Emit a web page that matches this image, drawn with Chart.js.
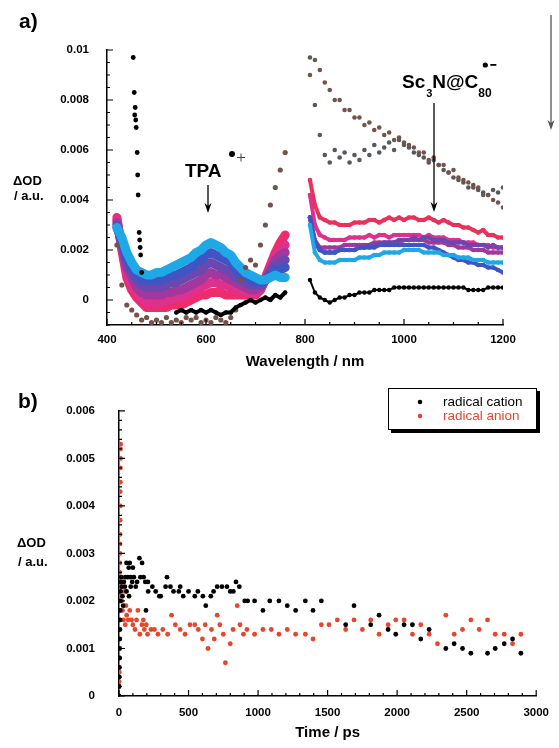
<!DOCTYPE html>
<html>
<head>
<meta charset="utf-8">
<script src="https://cdn.jsdelivr.net/npm/chart.js@4.4.0/dist/chart.umd.min.js"></script>
<style>
  body { margin: 0; background: #fff; }
  #page { position: relative; width: 559px; height: 748px; overflow: hidden; background: #fff; }
  #wrapA { position: absolute; left: 0; top: 0; width: 559px; height: 380px; }
  #wrapB { position: absolute; left: 0; top: 380px; width: 559px; height: 368px; }
</style>
</head>
<body>
<div id="page">
  <div id="wrapA"><canvas id="specChart"></canvas></div>
  <div id="wrapB"><canvas id="kinChart"></canvas></div>
</div>
<script>
// ---- panel a: transient spectra ----
const wlVis = [420,430,440,450,460,470,480,490,500,510,520,530,540,550,560,570,580,590,600,610,620,630,640,650,660,670,680,690,700,710,720,730,740,750,760];
const wlNir = [810,820,830,840,850,860,870,880,890,900,910,920,930,940,950,960,970,980,990,1000,1010,1020,1030,1040,1050,1060,1070,1080,1090,1100,1110,1120,1130,1140,1150,1160,1170,1180,1190,1200];

const cyanVis   = [0.0029,0.0025,0.0019,0.0015,0.0012,0.0011,0.0010,0.0010,0.0011,0.0011,0.0012,0.0013,0.0014,0.0015,0.0016,0.0017,0.0019,0.0020,0.0022,0.0023,0.0022,0.0021,0.0019,0.0018,0.0015,0.0013,0.0011,0.0010,0.0009,0.0008,0.0008,0.0009,0.0010,0.0009,0.0009];
const blueVis   = [0.0029,0.0024,0.0017,0.0013,0.0010,0.0008,0.0008,0.0008,0.0008,0.0008,0.0009,0.0010,0.0010,0.0011,0.0012,0.0013,0.0015,0.0016,0.0018,0.0019,0.0018,0.0017,0.0016,0.0015,0.0012,0.0010,0.0009,0.0008,0.0007,0.0007,0.0008,0.0010,0.0012,0.0012,0.0013];
const violetVis = [0.0030,0.0023,0.0015,0.0011,0.0008,0.0006,0.0005,0.0005,0.0005,0.0005,0.0006,0.0007,0.0007,0.0008,0.0009,0.0010,0.0011,0.0012,0.0014,0.0015,0.0014,0.0013,0.0012,0.0011,0.0009,0.0008,0.0007,0.0006,0.0006,0.0006,0.0008,0.0011,0.0014,0.0015,0.0016];
const purpleVis = [0.0031,0.0022,0.0013,0.0009,0.0005,0.0003,0.0002,0.0002,0.0002,0.0002,0.0003,0.0003,0.0004,0.0004,0.0005,0.0006,0.0007,0.0008,0.0010,0.0011,0.0010,0.0010,0.0009,0.0008,0.0007,0.0006,0.0005,0.0004,0.0004,0.0005,0.0008,0.0012,0.0016,0.0018,0.0019];
const pinkVis   = [0.0032,0.0021,0.0011,0.0006,0.0003,0.0001,-0.0001,-0.0001,-0.0001,-0.0001,0.0000,0.0000,0.0001,0.0001,0.0002,0.0003,0.0004,0.0005,0.0006,0.0007,0.0007,0.0006,0.0006,0.0005,0.0004,0.0004,0.0003,0.0003,0.0003,0.0004,0.0008,0.0013,0.0017,0.0020,0.0022];
const redVis    = [0.0033,0.0020,0.0009,0.0004,0.0001,-0.0001,-0.0003,-0.0003,-0.0003,-0.0003,-0.0003,-0.0002,-0.0002,-0.0002,-0.0001,0.0000,0.0001,0.0002,0.0002,0.0003,0.0003,0.0003,0.0002,0.0002,0.0002,0.0002,0.0002,0.0002,0.0002,0.0004,0.0009,0.0014,0.0019,0.0023,0.0026];
const brownVis  = [0.0022,0.0006,-0.0002,-0.0004,-0.0006,-0.0008,-0.0007,-0.0009,-0.0008,-0.0009,-0.0007,-0.0009,-0.0008,-0.0009,-0.0007,-0.0008,-0.0007,-0.0009,-0.0008,-0.0009,-0.0007,-0.0008,-0.0009,-0.0007,-0.0004,0.0008,0.0013,0.0016,0.0014,0.0022,0.0030,0.0038,0.0045,0.0052,0.0059];
const blackVis  = [null,null,null,null,null,null,null,null,null,null,null,null,-0.0005,-0.0004,-0.0005,-0.0004,-0.0005,-0.0004,-0.0005,-0.0004,-0.0005,-0.0006,-0.0005,-0.0005,-0.0003,-0.0002,-0.0001,0.0000,-0.0001,0.0000,0.0001,0.0000,0.0002,0.0001,0.0003];

// black points of the early spectrum near 460 nm
const spikeWl = [453,455,457,456,458,459,461,462,463,465,466,467,468,470];
const spikeOD = [0.0097,0.0083,0.0077,0.0074,0.0072,0.0069,0.0059,0.0050,0.0042,0.0027,0.0024,0.0021,0.0018,0.0011];

const redNir    = [0.0048,0.0038,0.0033,0.0032,0.0031,0.0031,0.0030,0.0030,0.0030,0.0031,0.0031,0.0031,0.0032,0.0032,0.0031,0.0032,0.0033,0.0032,0.0033,0.0032,0.0033,0.0033,0.0032,0.0032,0.0033,0.0032,0.0031,0.0032,0.0031,0.0030,0.0030,0.0029,0.0029,0.0028,0.0027,0.0028,0.0026,0.0026,0.0025,0.0025];
const pinkNir   = [0.0042,0.0030,0.0026,0.0025,0.0024,0.0024,0.0024,0.0024,0.0025,0.0025,0.0025,0.0025,0.0026,0.0025,0.0026,0.0026,0.0025,0.0026,0.0026,0.0026,0.0026,0.0026,0.0026,0.0025,0.0026,0.0025,0.0025,0.0025,0.0024,0.0024,0.0024,0.0023,0.0023,0.0023,0.0022,0.0022,0.0022,0.0021,0.0021,0.0021];
const violetNir = [0.0033,0.0023,0.0020,0.0019,0.0019,0.0019,0.0020,0.0020,0.0020,0.0020,0.0021,0.0021,0.0022,0.0022,0.0022,0.0023,0.0023,0.0023,0.0024,0.0024,0.0024,0.0025,0.0024,0.0025,0.0025,0.0024,0.0024,0.0024,0.0023,0.0023,0.0023,0.0023,0.0022,0.0022,0.0022,0.0022,0.0021,0.0022,0.0021,0.0021];
const purpleNir = [0.0033,0.0024,0.0021,0.0021,0.0021,0.0021,0.0021,0.0022,0.0022,0.0022,0.0022,0.0022,0.0022,0.0023,0.0023,0.0023,0.0023,0.0023,0.0023,0.0024,0.0024,0.0024,0.0024,0.0024,0.0023,0.0023,0.0023,0.0023,0.0022,0.0022,0.0021,0.0021,0.0021,0.0020,0.0020,0.0020,0.0019,0.0019,0.0019,0.0019];
const blueNir   = [0.0033,0.0023,0.0020,0.0019,0.0019,0.0019,0.0020,0.0020,0.0020,0.0020,0.0021,0.0021,0.0021,0.0021,0.0022,0.0022,0.0022,0.0022,0.0022,0.0022,0.0022,0.0022,0.0022,0.0022,0.0021,0.0021,0.0020,0.0019,0.0018,0.0017,0.0016,0.0016,0.0015,0.0015,0.0014,0.0014,0.0013,0.0013,0.0012,0.0011];
const cyanNir   = [0.0030,0.0019,0.0016,0.0015,0.0015,0.0015,0.0016,0.0016,0.0016,0.0016,0.0017,0.0017,0.0017,0.0018,0.0018,0.0019,0.0019,0.0019,0.0019,0.0020,0.0020,0.0020,0.0020,0.0019,0.0019,0.0019,0.0019,0.0018,0.0018,0.0018,0.0017,0.0017,0.0017,0.0016,0.0016,0.0016,0.0015,0.0015,0.0015,0.0015];
const blackNir  = [0.0008,0.0003,0.0001,0.0000,-0.0001,0.0000,0.0001,0.0001,0.0002,0.0002,0.0003,0.0003,0.0003,0.0004,0.0004,0.0004,0.0004,0.0005,0.0005,0.0005,0.0005,0.0005,0.0005,0.0005,0.0005,0.0005,0.0005,0.0005,0.0005,0.0005,0.0005,0.0005,0.0004,0.0004,0.0004,0.0004,0.0005,0.0005,0.0005,0.0005];
const brownNir  = [0.0090,0.0096,0.0092,0.0087,0.0084,0.0080,0.0080,0.0076,0.0076,0.0073,0.0073,0.0070,0.0071,0.0068,0.0069,0.0066,0.0067,0.0064,0.0065,0.0063,0.0062,0.0061,0.0059,0.0059,0.0056,0.0057,0.0054,0.0054,0.0051,0.0052,0.0049,0.0048,0.0047,0.0045,0.0045,0.0042,0.0042,0.0040,0.0039,0.0037];
const greyNir   = [0.0097,0.0078,0.0066,0.0058,0.0055,0.0060,0.0057,0.0059,0.0055,0.0058,0.0056,0.0060,0.0058,0.0062,0.0059,0.0061,0.0063,0.0060,0.0064,0.0062,0.0061,0.0059,0.0058,0.0057,0.0055,0.0056,0.0054,0.0052,0.0051,0.0049,0.0048,0.0047,0.0045,0.0046,0.0044,0.0043,0.0042,0.0044,0.0043,0.0045];

// ---- panel b: kinetics ----
const cationT  = [0,1,2,3,4,5,6,7,8,9,10,12,14,16,
  20,25,30,35,42,45,54,54,63,70,72,77,84,84,95,100,
  107,120,130,147,154,166,177,189,194,208,
  210,240,264,290,300,335,345,370,392,430,
  440,462,500,545,567,603,624,660,680,706,
  740,776,800,822,841,865,904,925,975,1035,
  1084,1150,1210,1270,1340,1395,1455,1630,1690,1810,
  1870,1935,1990,2050,2110,2170,2230,2350,2410,2470,
  2530,2650,2705,2770,2830,2890];
const cationOD = [0.0000,0.0002,0.0004,0.0006,0.0008,0.0010,0.0012,0.0014,0.0016,0.0018,0.0020,0.0022,0.0024,0.0025,
  0.0023,0.0021,0.0019,0.0024,0.0023,0.0025,0.0028,0.0022,0.0025,0.0027,0.0021,0.0028,0.0025,0.0023,0.0024,0.0027,
  0.0025,0.0023,0.0024,0.0029,0.0025,0.0028,0.0025,0.0024,0.0018,0.0024,
  0.0022,0.0023,0.0022,0.0021,0.0021,0.0023,0.0025,0.0023,0.0022,0.0022,
  0.0023,0.0021,0.0022,0.0021,0.0022,0.0021,0.0019,0.0021,0.0022,0.0023,
  0.0023,0.0023,0.0022,0.0022,0.0024,0.0023,0.0020,0.0020,0.0020,0.0018,
  0.0020,0.0020,0.0019,0.0018,0.0020,0.0018,0.0020,0.0015,0.0019,0.0015,
  0.0017,0.0014,0.0013,0.0015,0.0015,0.0012,0.0014,0.0010,0.0011,0.0010,
  0.0009,0.0009,0.0010,0.0011,0.0012,0.0009];

const anionT  = [0,1,2,3,4,4,5,5,6,6,7,7,8,8,9,9,10,10,11,11,12,
  15,20,25,28,32,40,45,50,55,65,
  77,90,100,115,126,136,150,165,175,182,
  196,205,230,255,280,315,350,378,405,440,
  475,510,545,570,600,620,640,665,685,706,
  725,750,765,800,820,850,870,895,920,975,
  1035,1095,1150,1210,1270,1340,1395,1455,1510,1570,
  1630,1690,1750,1810,1870,1935,1990,2050,2110,2170,
  2230,2290,2350,2410,2470,2530,2590,2650,2705,2770,
  2830,2890];
const anionOD = [0.0002,0.0003,0.0005,0.0008,0.0018,0.0021,0.0022,0.0024,0.0026,0.0028,0.0030,0.0032,0.0034,0.0037,0.0040,0.0043,0.0045,0.0048,0.0050,0.0052,0.0053,
  0.0023,0.0020,0.0018,0.0024,0.0016,0.0022,0.0015,0.0019,0.0017,0.0016,
  0.0018,0.0016,0.0015,0.0014,0.0016,0.0018,0.0013,0.0015,0.0016,0.0014,
  0.0015,0.0013,0.0014,0.0014,0.0013,0.0014,0.0013,0.0017,0.0015,0.0014,
  0.0013,0.0015,0.0015,0.0014,0.0012,0.0015,0.0010,0.0014,0.0012,0.0017,
  0.0015,0.0013,0.0007,0.0011,0.0014,0.0019,0.0015,0.0013,0.0014,0.0013,
  0.0014,0.0014,0.0013,0.0014,0.0013,0.0013,0.0012,0.0015,0.0015,0.0016,
  0.0014,0.0016,0.0014,0.0016,0.0013,0.0015,0.0016,0.0016,0.0013,0.0015,
  0.0013,0.0011,0.0017,0.0013,0.0014,0.0016,0.0014,0.0016,0.0013,0.0013,
  0.0011,0.0013];

const FONT = '"Liberation Sans", Arial, Helvetica, sans-serif';

function pts(xs, ys) {
  return xs.map((x, i) => ({ x: x, y: ys[i] }));
}

// a coloured band: thick line, optional dots on top
function band(label, xs, ys, color, width, r) {
  return {
    label: label,
    data: pts(xs, ys),
    showLine: true,
    borderColor: color,
    backgroundColor: color,
    borderWidth: width,
    borderJoinStyle: 'round',
    borderCapStyle: 'round',
    pointRadius: r,
    pointBorderWidth: 0
  };
}

function dots(label, xs, ys, color, r) {
  return {
    label: label,
    data: pts(xs, ys),
    showLine: false,
    backgroundColor: color,
    borderColor: color,
    pointRadius: r,
    pointBorderWidth: 0
  };
}

// tick marks pointing into the plot, long ones where there is a label
const inwardTicks = {
  id: 'inwardTicks',
  afterDatasetsDraw(chart) {
    const { ctx, chartArea: area, scales: { x, y } } = chart;
    ctx.save();
    ctx.strokeStyle = '#000';
    ctx.lineWidth = 1.2;
    ctx.beginPath();
    x.ticks.forEach(t => {
      const px = x.getPixelForValue(t.value);
      ctx.moveTo(px, area.bottom);
      ctx.lineTo(px, area.bottom - (t.label ? 6 : 3));
    });
    y.ticks.forEach(t => {
      const py = y.getPixelForValue(t.value);
      ctx.moveTo(area.left, py);
      ctx.lineTo(area.left + (t.label ? 6 : 3), py);
    });
    ctx.stroke();
    ctx.restore();
  }
};

function arrow(ctx, x, y1, y2, color) {
  ctx.strokeStyle = color;
  ctx.fillStyle = color;
  ctx.lineWidth = 1.3;
  ctx.beginPath();
  ctx.moveTo(x, y1);
  ctx.lineTo(x, y2 - 5);
  ctx.stroke();
  ctx.beginPath();
  ctx.moveTo(x, y2);
  ctx.lineTo(x - 3.5, y2 - 10);
  ctx.lineTo(x, y2 - 7);
  ctx.lineTo(x + 3.5, y2 - 10);
  ctx.closePath();
  ctx.fill();
}

function dot(ctx, x, y, r) {
  ctx.beginPath();
  ctx.arc(x, y, r, 0, Math.PI * 2);
  ctx.fill();
}

const notesA = {
  id: 'notesA',
  afterDraw(chart) {
    const ctx = chart.ctx;
    ctx.save();
    ctx.fillStyle = '#000';
    ctx.textAlign = 'left';
    ctx.textBaseline = 'alphabetic';
    ctx.font = 'bold 21px ' + FONT;
    ctx.fillText('a)', 19, 28);
    ctx.font = 'bold 13px ' + FONT;
    ctx.fillText('\u0394OD', 13, 185);
    ctx.fillText('/ a.u.', 14, 200);

    // TPA radical cation label
    ctx.font = 'bold 19px ' + FONT;
    ctx.fillText('TPA', 185, 177);
    dot(ctx, 232, 154, 3);
    ctx.strokeStyle = '#444';
    ctx.lineWidth = 1;
    ctx.beginPath();
    ctx.moveTo(237, 157.5); ctx.lineTo(245, 157.5);
    ctx.moveTo(241, 153.5); ctx.lineTo(241, 161.5);
    ctx.stroke();
    arrow(ctx, 208, 185, 213, '#000');

    // Sc3N@C80 radical anion label
    let cx = 402;
    ctx.fillStyle = '#000';
    ctx.font = 'bold 19px ' + FONT;
    ctx.fillText('Sc', cx, 88);
    cx += ctx.measureText('Sc').width + 1;
    ctx.font = 'bold 11px ' + FONT;
    ctx.fillText('3', cx, 97);
    cx += ctx.measureText('3').width;
    ctx.font = 'bold 19px ' + FONT;
    ctx.fillText('N@C', cx, 88);
    cx += ctx.measureText('N@C').width;
    ctx.font = 'bold 12px ' + FONT;
    ctx.fillText('80', cx, 97);
    dot(ctx, cx + 7, 65, 2.6);
    ctx.fillRect(cx + 12, 64, 6, 1.8);
    arrow(ctx, 434, 103, 212, '#000');

    // time arrow on the right
    arrow(ctx, 551, 15, 130, '#555');
    ctx.restore();
  }
};

const notesB = {
  id: 'notesB',
  afterDraw(chart) {
    const ctx = chart.ctx;
    ctx.save();
    ctx.fillStyle = '#000';
    ctx.textAlign = 'left';
    ctx.textBaseline = 'alphabetic';
    ctx.font = 'bold 21px ' + FONT;
    ctx.fillText('b)', 18, 28);
    ctx.font = 'bold 13px ' + FONT;
    ctx.fillText('\u0394OD', 17, 167);
    ctx.fillText('/ a.u.', 18, 186);

    // legend box with drop shadow
    const bx = 388, by = 8, bw = 149, bh = 42;
    ctx.fillStyle = '#000';
    ctx.fillRect(bx + 3, by + 3, bw, bh);
    ctx.fillStyle = '#fff';
    ctx.fillRect(bx, by, bw, bh);
    ctx.strokeStyle = '#000';
    ctx.lineWidth = 1;
    ctx.strokeRect(bx + 0.5, by + 0.5, bw - 1, bh - 1);
    ctx.font = '13.5px ' + FONT;
    ctx.textBaseline = 'middle';
    ctx.fillStyle = '#000';
    dot(ctx, 420, 22, 2.3);
    ctx.fillText('radical cation', 443, 22);
    ctx.fillStyle = '#e8452c';
    dot(ctx, 420, 36, 2.3);
    ctx.fillText('radical anion', 443, 36);
    ctx.restore();
  }
};

const tickFont = { family: FONT, size: 11.5, weight: 'bold' };

function axisBorder() {
  return { display: true, color: '#000', width: 1.5 };
}

// ---- chart a ----
new Chart(document.getElementById('specChart'), {
  type: 'scatter',
  data: {
    datasets: [
      dots('black early', spikeWl, spikeOD, '#000', 2.4),
      band('black vis', wlVis, blackVis, '#000', 4, 2.2),
      band('black nir', wlNir, blackNir, '#000', 2, 2.2),
      dots('brown vis', wlVis, brownVis, '#76534a', 2.6),
      dots('brown nir', wlNir, brownNir, '#76534a', 2.3),
      dots('grey nir', wlNir, greyNir, '#55595e', 2.3),
      band('cyan vis', wlVis, cyanVis, '#1ea8e6', 9, 0),
      band('cyan nir', wlNir, cyanNir, '#1ea8e6', 4, 2.3),
      band('blue vis', wlVis, blueVis, '#3f55c4', 9, 0),
      band('blue nir', wlNir, blueNir, '#3f55c4', 4, 2.3),
      band('violet vis', wlVis, violetVis, '#6a48b0', 9, 0),
      band('violet nir', wlNir, violetNir, '#6a48b0', 4, 2.3),
      band('purple vis', wlVis, purpleVis, '#a0389e', 9, 0),
      band('purple nir', wlNir, purpleNir, '#a0389e', 4, 2.3),
      band('pink vis', wlVis, pinkVis, '#e0308e', 9, 0),
      band('pink nir', wlNir, pinkNir, '#e0308e', 4, 2.3),
      band('red vis', wlVis, redVis, '#ee2c6c', 9, 0),
      band('red nir', wlNir, redNir, '#e8325a', 4, 2.3)
    ]
  },
  options: {
    animation: false,
    responsive: true,
    maintainAspectRatio: false,
    events: [],
    layout: { padding: { top: 50, right: 56, bottom: 0, left: 0 } },
    plugins: { legend: { display: false }, tooltip: { enabled: false } },
    scales: {
      x: {
        type: 'linear',
        min: 400,
        max: 1200,
        grid: { display: false, drawTicks: false },
        border: axisBorder(),
        ticks: {
          stepSize: 50,
          autoSkip: false,
          maxRotation: 0,
          padding: 8,
          color: '#000',
          font: tickFont,
          callback: v => (v % 200 === 0 ? String(v) : '')
        },
        title: {
          display: true,
          text: 'Wavelength / nm',
          color: '#000',
          font: { family: FONT, size: 15, weight: 'bold' },
          padding: { top: 0, bottom: 9 }
        },
        afterFit: s => { s.height = 55; }
      },
      y: {
        type: 'linear',
        min: -0.001,
        max: 0.01,
        grid: { display: false, drawTicks: false },
        border: axisBorder(),
        ticks: {
          stepSize: 0.0005,
          autoSkip: false,
          padding: 18,
          color: '#000',
          font: tickFont,
          callback: v => {
            const k = Math.round(v / 0.002);
            return (v > -1e-9 && Math.abs(v - k * 0.002) < 1e-7) ? String(parseFloat(v.toFixed(3))) : '';
          }
        },
        afterFit: s => { s.width = 107; }
      }
    }
  },
  plugins: [inwardTicks, notesA]
});

// ---- chart b ----
new Chart(document.getElementById('kinChart'), {
  type: 'scatter',
  data: {
    datasets: [
      dots('radical cation', cationT, cationOD, '#000', 2.4),
      dots('radical anion', anionT, anionOD, '#e8452c', 2.4)
    ]
  },
  options: {
    animation: false,
    responsive: true,
    maintainAspectRatio: false,
    events: [],
    layout: { padding: { top: 19, right: 12, bottom: 0, left: 0 } },
    plugins: { legend: { display: false }, tooltip: { enabled: false } },
    scales: {
      x: {
        type: 'linear',
        min: 0,
        max: 3000,
        grid: { display: false, drawTicks: false },
        border: axisBorder(),
        ticks: {
          stepSize: 100,
          autoSkip: false,
          maxRotation: 0,
          padding: 10,
          color: '#000',
          font: tickFont,
          callback: v => (v % 500 === 0 ? String(v) : '')
        },
        title: {
          display: true,
          text: 'Time / ps',
          color: '#000',
          font: { family: FONT, size: 15, weight: 'bold' },
          padding: { top: 0, bottom: 6 }
        },
        afterFit: s => { s.height = 52; }
      },
      y: {
        type: 'linear',
        min: 0,
        max: 0.006,
        grid: { display: false, drawTicks: false },
        border: axisBorder(),
        ticks: {
          stepSize: 0.0002,
          autoSkip: false,
          padding: 24,
          color: '#000',
          font: tickFont,
          callback: v => {
            const k = Math.round(v / 0.001);
            return Math.abs(v - k * 0.001) < 1e-7 ? String(parseFloat(v.toFixed(3))) : '';
          }
        },
        afterFit: s => { s.width = 119; }
      }
    }
  },
  plugins: [inwardTicks, notesB]
});
</script>
</body>
</html>
